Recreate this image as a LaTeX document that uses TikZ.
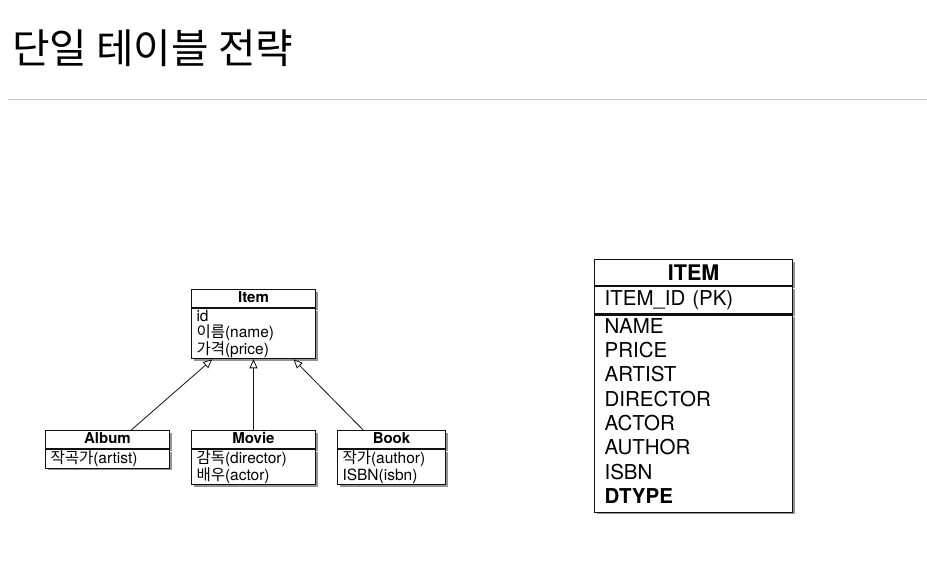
\documentclass[tikz,border=0pt]{standalone}
\usepackage{fontspec}
\setmainfont{TeX Gyre Heros}
\newfontfamily\kr{Noto Sans CJK KR}
\usetikzlibrary{arrows.meta,positioning,shadows,calc}
\definecolor{RuleGray}{HTML}{C4C4C4}
\definecolor{DarkText}{HTML}{111111}
\tikzset{
  shade/.style={drop shadow={shadow xshift=2pt, shadow yshift=-2pt, fill=black!60, opacity=0.7}},
  head/.style={draw=DarkText, line width=1pt, fill=white, shade, minimum height=18pt, inner sep=0pt, text height=10.5pt, text depth=2.5pt, font=\fontsize{15}{17}\selectfont\bfseries},
  body/.style={draw=DarkText, line width=1pt, fill=white, shade, align=left, inner xsep=5pt, inner ysep=1.2pt, font=\fontsize{15.5}{16.6}\selectfont},
  thead/.style={draw=DarkText, line width=1.2pt, fill=white, shade, minimum width=198pt, minimum height=26pt, inner sep=0pt, text height=15pt, text depth=0pt, font=\fontsize{21.5}{23}\selectfont\bfseries},
  trow/.style={draw=DarkText, line width=1.2pt, fill=white, shade, minimum width=198pt, align=left, text width=178pt, inner xsep=10pt, font=\fontsize{20.5}{24.3}\selectfont},
  arr/.style={-{Triangle[open, length=9pt, width=8pt]}, line width=0.8pt, draw=DarkText}
}
\begin{document}
\begin{tikzpicture}[x=1pt, y=-1pt]
\useasboundingbox (0,0) rectangle (927,587);
% title
\node[anchor=base west, inner sep=0pt, font=\fontsize{40.8}{44}\selectfont\kr] (title) at (12,63.5) {단일 테이블 전략};
\draw[RuleGray, line width=1.5pt] (8,99.5) -- (927,99.5);

% class diagram
\node[head, minimum width=124pt, anchor=north west] (ih) at (191,289) {Item};
\node[body, below=0pt of ih, minimum width=124pt, text width=114pt] (ib) {id\\{\kr 이름}(name)\\{\kr 가격}(price)};
\node[head, minimum width=124pt, anchor=north west] (ah) at (45,430) {Album};
\node[body, below=0pt of ah, minimum width=124pt, text width=114pt] (ab) {{\kr 작곡가}(artist)};
\node[head, minimum width=124pt, anchor=north west] (mh) at (191,430) {Movie};
\node[body, below=0pt of mh, minimum width=124pt, text width=114pt] (mb) {{\kr 감독}(director)\\{\kr 배우}(actor)};
\node[head, minimum width=108pt, anchor=north west] (bh) at (337,430) {Book};
\node[body, below=0pt of bh, minimum width=108pt, text width=98pt] (bb) {{\kr 작가}(author)\\ISBN(isbn)};

\draw[arr] ($(ah.north west)!0.69!(ah.north east)$) -- ($(ib.south west)!0.17!(ib.south east)$);
\draw[arr] (mh.north) -- (ib.south);
\draw[arr] ($(bh.north west)!0.24!(bh.north east)$) -- ($(ib.south west)!0.82!(ib.south east)$);

% table
\node[thead, anchor=north west] (th) at (594,259) {ITEM};
\node[trow, below=0pt of th, inner ysep=4pt] (tk) {ITEM\_ID (PK)};
\node[trow, below=0pt of tk, inner ysep=3pt] (tr) {NAME\\PRICE\\ARTIST\\DIRECTOR\\ACTOR\\AUTHOR\\ISBN\\\textbf{DTYPE}\rule[-6pt]{0pt}{6pt}};
\end{tikzpicture}
\end{document}
